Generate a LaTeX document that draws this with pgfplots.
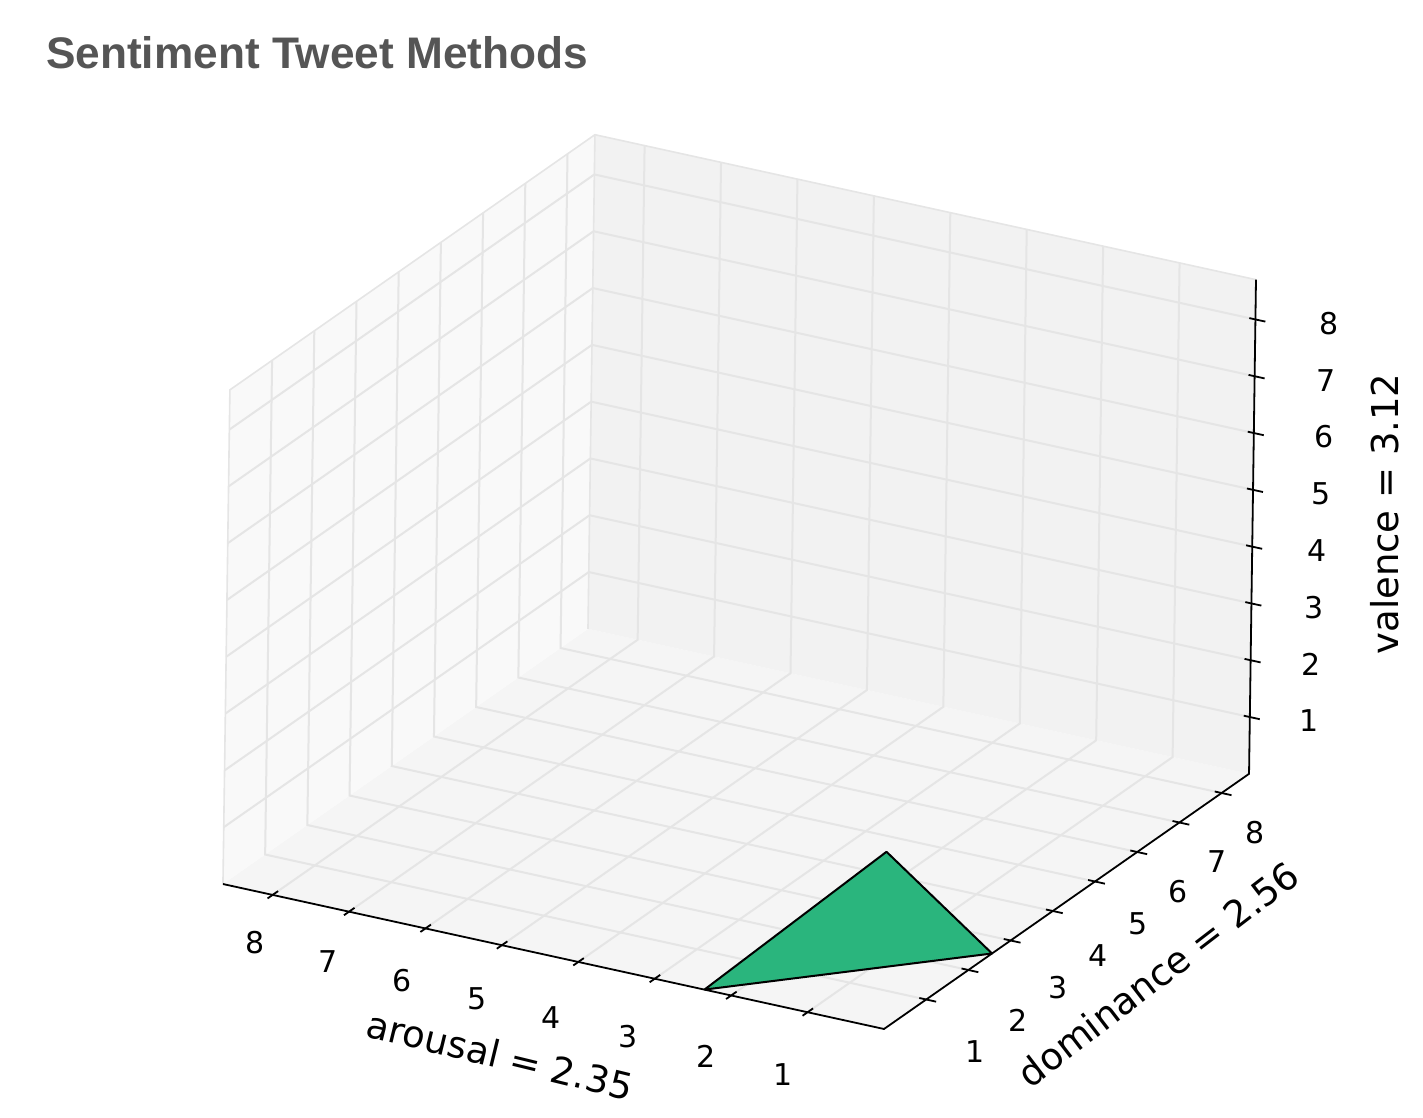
\documentclass[border=0pt]{standalone}
\usepackage{fontspec}
\setmainfont{DejaVu Sans}
\newfontfamily\titlefont{Liberation Sans}
\usepackage{pgfplots}
\pgfplotsset{compat=1.18}
\usetikzlibrary{calc}
\definecolor{tri}{RGB}{42,181,125}
\definecolor{gridc}{RGB}{229,229,229}
\definecolor{paneX}{RGB}{249,249,249}
\definecolor{paneY}{RGB}{242,242,242}
\definecolor{paneZ}{RGB}{245,245,245}
\definecolor{titlec}{RGB}{85,85,85}
\newcommand\ticklab{\fontsize{7.5pt}{9pt}\selectfont}
\newcommand\axlab{\fontsize{9.25pt}{11pt}\selectfont}
\begin{document}
\begin{tikzpicture}
\begin{axis}[
  x={(19.105pt,-4.19pt)}, y={(10.55pt,7.375pt)}, z={(0.2pt,14.2pt)},
  xmin=-8.65, xmax=0, ymin=0, ymax=8.65, zmin=0, zmax=8.7,
  hide axis, clip=false,
]
\coordinate (O) at (axis cs:0,0,0);
% panes
\fill[paneZ] (axis cs:-8.65,0,0) -- (axis cs:0,0,0) -- (axis cs:0,8.65,0) -- (axis cs:-8.65,8.65,0) -- cycle;
\fill[paneX] (axis cs:-8.65,0,0) -- (axis cs:-8.65,8.65,0) -- (axis cs:-8.65,8.65,8.7) -- (axis cs:-8.65,0,8.7) -- cycle;
\fill[paneY] (axis cs:-8.65,8.65,0) -- (axis cs:0,8.65,0) -- (axis cs:0,8.65,8.7) -- (axis cs:-8.65,8.65,8.7) -- cycle;
\draw[gridc, line width=0.4pt] (axis cs:-8.65,0,0) -- (axis cs:-8.65,0,8.7) -- (axis cs:-8.65,8.65,8.7) -- (axis cs:0,8.65,8.7);
\draw[gridc, line width=0.4pt] (axis cs:-8.65,8.65,0) -- (axis cs:-8.65,8.65,8.7);
% grid
\pgfplotsinvokeforeach{1,...,8}{
  \draw[gridc, line width=0.5pt] (axis cs:-#1,0,0) -- (axis cs:-#1,8.65,0) -- (axis cs:-#1,8.65,8.7);
  \draw[gridc, line width=0.5pt] (axis cs:0,#1,0) -- (axis cs:-8.65,#1,0) -- (axis cs:-8.65,#1,8.7);
  \draw[gridc, line width=0.5pt] (axis cs:-8.65,0,#1) -- (axis cs:-8.65,8.65,#1) -- (axis cs:0,8.65,#1);
}
% axis lines
\draw[black, line width=0.45pt] (axis cs:-8.65,0,0) -- (axis cs:0,0,0) -- (axis cs:0,8.65,0) -- (axis cs:0,8.65,8.7);
% tick marks
\pgfplotsinvokeforeach{1,...,8}{
  \draw[black, line width=0.45pt] (axis cs:-#1,-0.12,0) -- (axis cs:-#1,0.13,0);
  \draw[black, line width=0.45pt] (axis cs:0.13,#1,0) -- (axis cs:-0.09,#1,0);
  \draw[black, line width=0.45pt] (axis cs:0.13,8.65,#1) -- (axis cs:-0.08,8.65,#1);
  \node[font=\ticklab, xshift={(56.5+2.2*#1)*0.25pt}, yshift=-1pt] at (axis cs:0,8.65,#1) {#1};
}
% data: triangle (arousal, dominance, valence)
\addplot3[fill=tri, draw=black, line width=0.5pt, line join=round] coordinates {(-2.35,0,0) (0,2.56,0) (0,0,3.12) (-2.35,0,0)};
\end{axis}
% x (arousal) tick labels
\foreach \lab/\dx/\dy in {8/-157.25/21.5, 7/-139/16.75, 6/-120.5/12, 5/-101.75/7.5, 4/-83.25/2.75, 3/-64/-2, 2/-44.5/-6.75, 1/-25.25/-11.5}
  \node[font=\ticklab] at ($(O)+(\dx pt,\dy pt)$) {\lab};
% y (dominance) tick labels
\foreach \lab/\dx/\dy in {1/22.75/-5.75, 2/33.5/2.25, 3/43.5/10.25, 4/53.5/18.25, 5/63.5/26.25, 6/73.5/34.25, 7/83.25/41.75, 8/92.75/49}
  \node[font=\ticklab] at ($(O)+(\dx pt,\dy pt)$) {\lab};
\node[anchor=base west, font=\titlefont\bfseries\fontsize{11.05pt}{13pt}\selectfont, text=titlec] at ($(O)+(-213pt,240pt)$) {Sentiment Tweet Methods};
\node[font=\axlab, rotate=-13.7] at ($(O)+(-96pt,-6.5pt)$) {arousal = 2.35};
\node[font=\axlab, rotate=37.5] at ($(O)+(68.5pt,13.75pt)$) {dominance = 2.56};
\node[font=\axlab, rotate=90] at ($(O)+(125.25pt,128.75pt)$) {valence = 3.12};
\path ($(O)+(-221pt,-17.25pt)$) rectangle ($(O)+(134.75pt,257.25pt)$);
\end{tikzpicture}
\end{document}
